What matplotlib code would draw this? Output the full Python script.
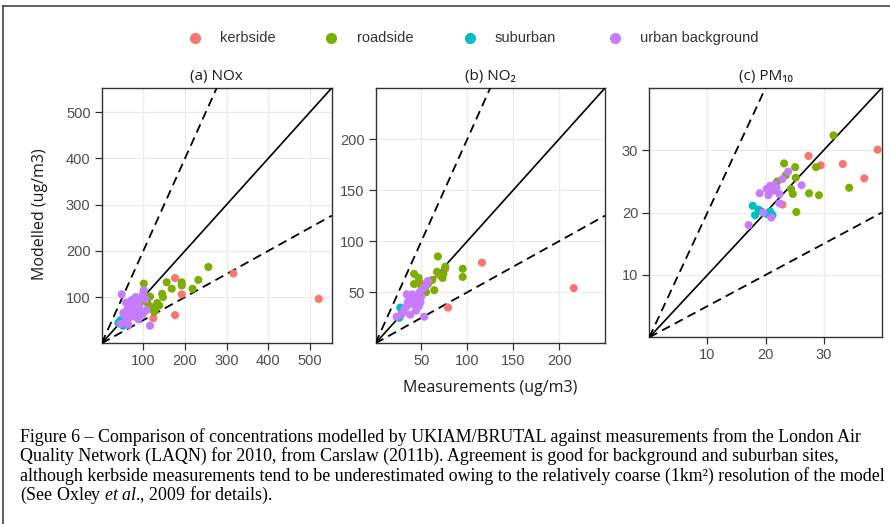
import numpy as np
import matplotlib
matplotlib.use("Agg")
import matplotlib.pyplot as plt
from matplotlib.lines import Line2D

plt.rcParams['mathtext.fontset'] = 'custom'
plt.rcParams['mathtext.rm'] = 'Liberation Serif'
plt.rcParams['mathtext.it'] = 'Liberation Serif:italic'

categories = ['kerbside', 'roadside', 'suburban', 'urban background']
colours = ['#F8766D', '#7CAE00', '#00BFC4', '#C77CFF']

# (a) NOx  -- measurement, modelled
nox_kerb_x = [176, 192, 316, 521, 176, 124]
nox_kerb_y = [141, 106, 151, 96, 61, 54]
nox_road_x = [256, 232, 156, 192, 192, 168, 145, 147, 218, 101, 116, 110, 120, 133, 126, 101, 93, 128, 138]
nox_road_y = [165, 137, 132, 132, 125, 118, 107, 100, 118, 129, 101, 87, 78, 87, 68, 106, 89, 72, 82]
nox_sub_x = [40, 51, 45]
nox_sub_y = [44, 38, 50]
nox_urb_x = [48, 116, 101, 55, 62, 70, 75, 80, 85, 90, 95, 100, 105, 60, 66, 72, 78, 84, 92, 98, 58, 64, 88, 45, 52, 108, 82, 70]
nox_urb_y = [106, 38, 115, 60, 75, 85, 95, 70, 90, 80, 100, 110, 95, 48, 55, 65, 58, 78, 68, 62, 88, 40, 52, 42, 66, 72, 100, 92]

# (b) NO2
no2_kerb_x = [116, 216, 79, 69, 49, 76]
no2_kerb_y = [79, 54, 35, 67, 59, 73]
no2_road_x = [68, 95, 95, 76, 74, 73, 67, 42, 47, 42, 50, 57, 64, 55, 43, 62]
no2_road_y = [85, 73, 65, 75, 68, 64, 70, 68, 64, 58, 56, 58, 52, 50, 45, 62]
no2_sub_x = [27, 26, 29]
no2_sub_y = [35, 25, 30]
no2_urb_x = [53, 23, 57, 30, 33, 35, 37, 40, 42, 45, 48, 50, 52, 38, 44, 34, 47, 55, 28, 41, 36, 49, 31]
no2_urb_y = [26, 26, 61, 30, 35, 40, 44, 48, 38, 42, 50, 46, 54, 28, 32, 48, 36, 56, 28, 45, 38, 40, 33]

# (c) PM10
pm_kerb_x = [27.4, 29.5, 33.3, 39.3, 37.0, 22.9]
pm_kerb_y = [29.1, 27.6, 27.8, 30.1, 25.5, 21.3]
pm_road_x = [31.7, 23.2, 25.1, 28.7, 22.0, 23.5, 25.2, 24.4, 24.7, 27.5, 29.2, 34.4, 25.3]
pm_road_y = [32.4, 27.9, 27.3, 27.3, 25.0, 26.0, 25.6, 23.8, 23.0, 23.1, 22.8, 24.0, 20.1]
pm_sub_x = [17.8, 18.2, 19.3, 20.2, 20.8, 21.2, 18.8]
pm_sub_y = [21.1, 19.6, 20.2, 19.8, 20.2, 19.6, 20.5]
pm_urb_x = [17.1, 19.0, 20.2, 20.8, 21.3, 21.9, 22.4, 23.9, 26.2, 22.9, 19.6, 21.0, 22.4, 20.5, 21.6]
pm_urb_y = [18.0, 23.1, 23.8, 24.3, 23.5, 24.0, 23.0, 26.6, 24.4, 25.4, 20.0, 19.2, 21.5, 22.8, 24.5]

panels = [
    ('(a) NOx', 552, [100, 200, 300, 400, 500], [100, 200, 300, 400, 500],
     [(nox_kerb_x, nox_kerb_y), (nox_road_x, nox_road_y), (nox_sub_x, nox_sub_y), (nox_urb_x, nox_urb_y)]),
    ('(b) NO\u2082', 250, [50, 100, 150, 200], [50, 100, 150, 200],
     [(no2_kerb_x, no2_kerb_y), (no2_road_x, no2_road_y), (no2_sub_x, no2_sub_y), (no2_urb_x, no2_urb_y)]),
    ('(c) PM\u2081\u2080', 40, [10, 20, 30], [10, 20, 30],
     [(pm_kerb_x, pm_kerb_y), (pm_road_x, pm_road_y), (pm_sub_x, pm_sub_y), (pm_urb_x, pm_urb_y)]),
]

W, H = 890, 524
fig = plt.figure(figsize=(W / 100, H / 100), dpi=100)

boxes = [(101.7, 331.7, 88, 343.3), (375.5, 605, 88, 343.3), (649.3, 881.7, 88, 337.3)]

frame_col = '#333333'
for (title, lim, xt, yt, series), (l, r, t, b) in zip(panels, boxes):
    ax = fig.add_axes([l / W, 1 - b / H, (r - l) / W, (b - t) / H])
    ax.set_xlim(0, lim)
    ax.set_ylim(0, lim)
    ax.set_xticks(xt)
    ax.set_yticks(yt)
    ax.grid(True, color='#EBEBEB', lw=0.9)
    ax.set_axisbelow(True)
    for sp in ax.spines.values():
        sp.set_color(frame_col)
        sp.set_linewidth(1.0)
    ax.tick_params(direction='out', length=5, width=0.9, color=frame_col,
                   labelcolor='#4D4D4D', labelsize=10.5, pad=3)
    for lab in ax.get_xticklabels() + ax.get_yticklabels():
        lab.set_family('Liberation Sans')
    xs = np.array([0, lim])
    ax.plot(xs, xs, color='black', lw=1.2, zorder=3)
    ax.plot(xs, 2 * xs, color='black', lw=1.3, ls=(0, (5, 3)), zorder=3)
    ax.plot(xs, 0.5 * xs, color='black', lw=1.3, ls=(0, (5, 3)), zorder=3)
    for (x, y), c in zip(series, colours):
        ax.scatter(x, y, s=34, color=c, edgecolors='none', zorder=4, clip_on=False)
    ax.set_title(title, family='Open Sans', fontsize=11, color='#1A1A1A', pad=6)

fig.text(40 / W, 1 - 214 / H, 'Modelled (ug/m3)', rotation=90, ha='center', va='center',
         family='Open Sans', fontsize=11.5, color='#1A1A1A')
fig.text(490 / W, 1 - 388 / H, 'Measurements (ug/m3)', ha='center', va='center',
         family='Open Sans', fontsize=11.5, color='#1A1A1A')

# legend along the top
leg_dot = [195, 331, 470, 615]
leg_txt = [220, 357, 495, 640]
for name, c, dx, tx in zip(categories, colours, leg_dot, leg_txt):
    fig.add_artist(Line2D([dx / W], [1 - 38 / H], marker='o', ms=7, color=c, ls='none'))
    fig.text(tx / W, 1 - 38 / H, name, ha='left', va='center', family='Liberation Sans',
             fontsize=10.5, color='#333333')

# outer frame
fig.add_artist(Line2D([3 / W, 3 / W], [0, 1 - 6 / H], color='#444444', lw=1.2))
fig.add_artist(Line2D([3 / W, 1], [1 - 6 / H, 1 - 6 / H], color='#444444', lw=1.2))

caption = [
    'Figure 6 \u2013 Comparison of concentrations modelled by UKIAM/BRUTAL against measurements from the London Air',
    'Quality Network (LAQN) for 2010, from Carslaw (2011b). Agreement is good for background and suburban sites,',
    'although kerbside measurements tend to be underestimated owing to the relatively coarse (1km\u00b2) resolution of the model',
    r'(See Oxley $\mathit{et\ al}$., 2009 for details).',
]
for i, line in enumerate(caption):
    fig.text(20 / W, 1 - (437 + 19.5 * i) / H, line, ha='left', va='center',
             family='Liberation Serif', fontsize=12.9, color='black')

fig.savefig('out.png', dpi=100)
